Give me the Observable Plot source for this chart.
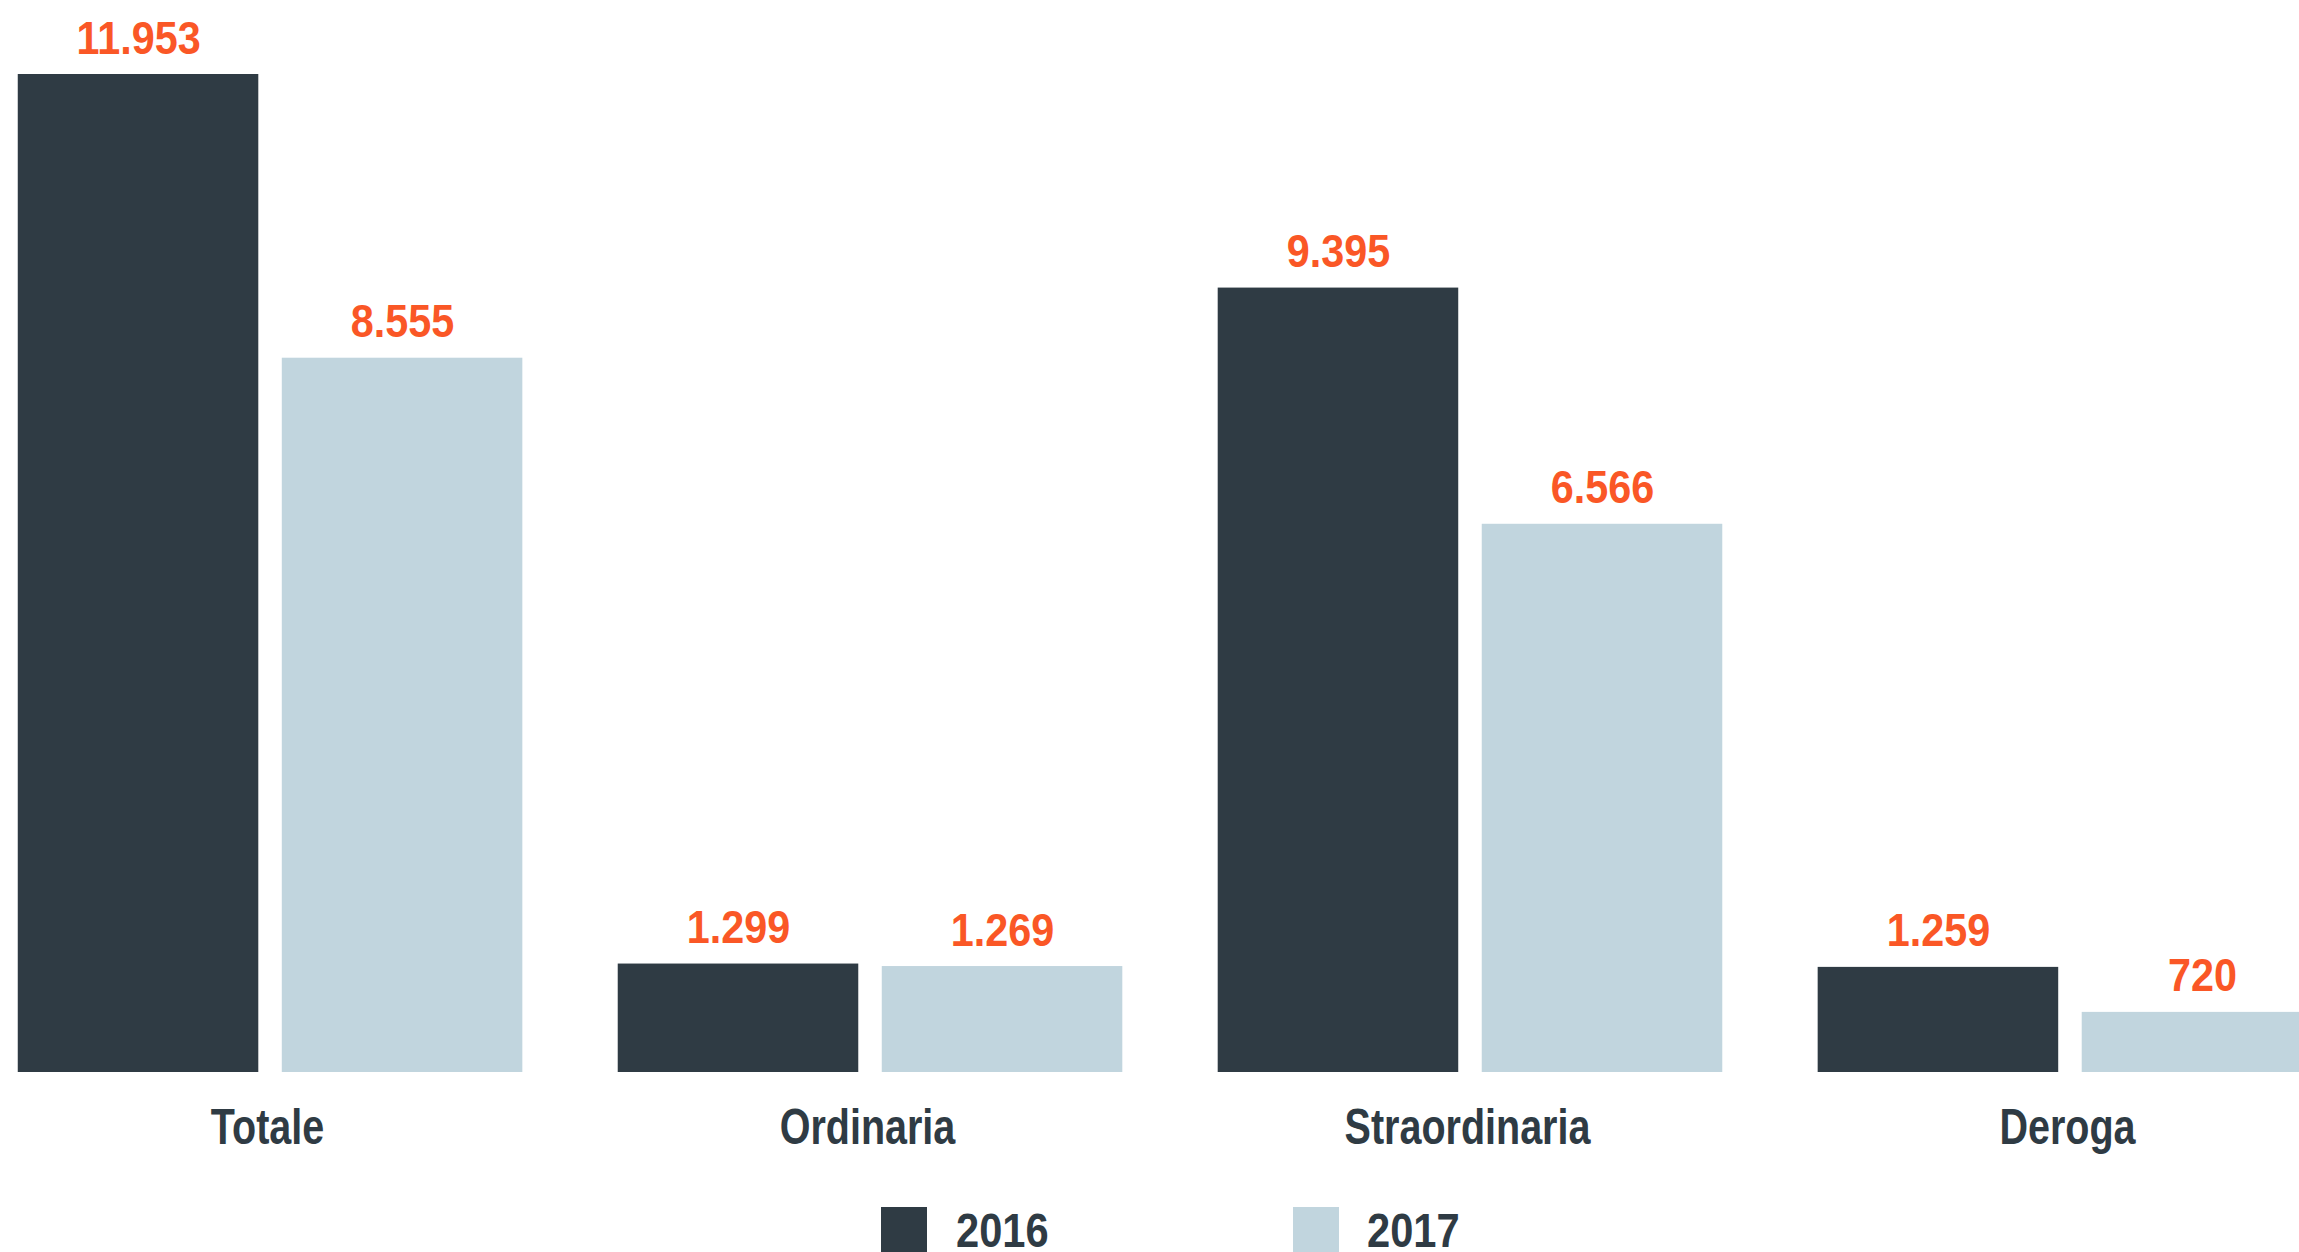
<!DOCTYPE html>
<html>
<head>
<meta charset="utf-8">
<script src="https://cdn.jsdelivr.net/npm/d3@7"></script>
<script src="https://cdn.jsdelivr.net/npm/@observablehq/plot@0.6"></script>
<style>
  html, body { margin: 0; padding: 0; background: #ffffff; overflow: hidden; width: 2299px; height: 1252px; }
  body { position: relative; font-family: "Liberation Sans", Arial, sans-serif; }
  #chart { position: absolute; left: -30px; top: 0; width: 2400px; }
  #chart svg { max-width: none; display: block; }
  .legend { position: absolute; top: 1207px; left: 0; width: 2299px; height: 46px; }
  .legend .sw { position: absolute; top: 0; width: 46px; height: 46px; }
  .legend .lb { position: absolute; top: 0; height: 46px; line-height: 46px; font-size: 49px; font-weight: bold; color: #2f3b44; transform: scaleX(0.85); transform-origin: 0 50%; white-space: nowrap; }
</style>
</head>
<body>
<div id="chart"></div>
<div class="legend" id="legend"></div>
<script>
const categories = ["Totale", "Ordinaria", "Straordinaria", "Deroga"];
const years = ["2016", "2017"];
const values2016 = [11953, 1299, 9395, 1259];
const values2017 = [8555, 1269, 6566, 720];
const valueLabels2016 = ["11.953", "1.299", "9.395", "1.259"];
const valueLabels2017 = ["8.555", "1.269", "6.566", "720"];

const dark = "#2f3b44";
const light = "#c1d5de";
const orange = "#fa5726";

const table = categories.flatMap((c, i) => [
  {category: c, year: years[0], value: values2016[i], label: valueLabels2016[i]},
  {category: c, year: years[1], value: values2017[i], label: valueLabels2017[i]}
]);

const fontFam = '"Liberation Sans", Arial, sans-serif';

const chart = Plot.plot({
  width: 2400,
  height: 1190,
  marginTop: 74,
  marginBottom: 118,
  marginLeft: 0,
  marginRight: 0,
  style: {fontFamily: fontFam, color: dark, background: "transparent"},
  fx: {domain: categories, paddingInner: 0.159, paddingOuter: 0.0796, round: false, label: null, axis: null},
  x: {domain: years, paddingInner: 0.089, paddingOuter: 0, round: false, axis: null},
  y: {domain: [0, d3.max(table, d => d.value)], axis: null},
  color: {domain: years, range: [dark, light]},
  marks: [
    Plot.barY(table, {fx: "category", x: "year", y: "value", fill: "year"}),
    Plot.text(table, {fx: "category", x: "year", y: "value", text: "label", fill: orange,
      lineAnchor: "bottom", dy: -21, fontSize: 47, fontWeight: "bold", textAnchor: "middle"}),
    Plot.axisFx({anchor: "bottom", tickSize: 0, tickPadding: 36, dx: -3, fontSize: 50, fontWeight: "bold", label: null, fill: dark})
  ]
});
document.getElementById("chart").appendChild(chart);

// emulate the condensed typeface of the original by compressing glyphs horizontally
chart.querySelectorAll("text").forEach(t => {
  const s = t.textContent.trim();
  const isNum = /^[\d.]+$/.test(s);
  const f = isNum ? 0.88 : 0.79;
  const len = t.getComputedTextLength();
  t.setAttribute("textLength", (len * f).toFixed(1));
  t.setAttribute("lengthAdjust", "spacingAndGlyphs");
});

const legend = document.getElementById("legend");
const swX = [881, 1293];
const lbX = [956, 1367];
years.forEach((y, i) => {
  const sw = document.createElement("div");
  sw.className = "sw";
  sw.style.left = swX[i] + "px";
  sw.style.background = i === 0 ? dark : light;
  legend.appendChild(sw);
  const lb = document.createElement("div");
  lb.className = "lb";
  lb.style.left = lbX[i] + "px";
  lb.textContent = y;
  legend.appendChild(lb);
});
</script>
</body>
</html>
